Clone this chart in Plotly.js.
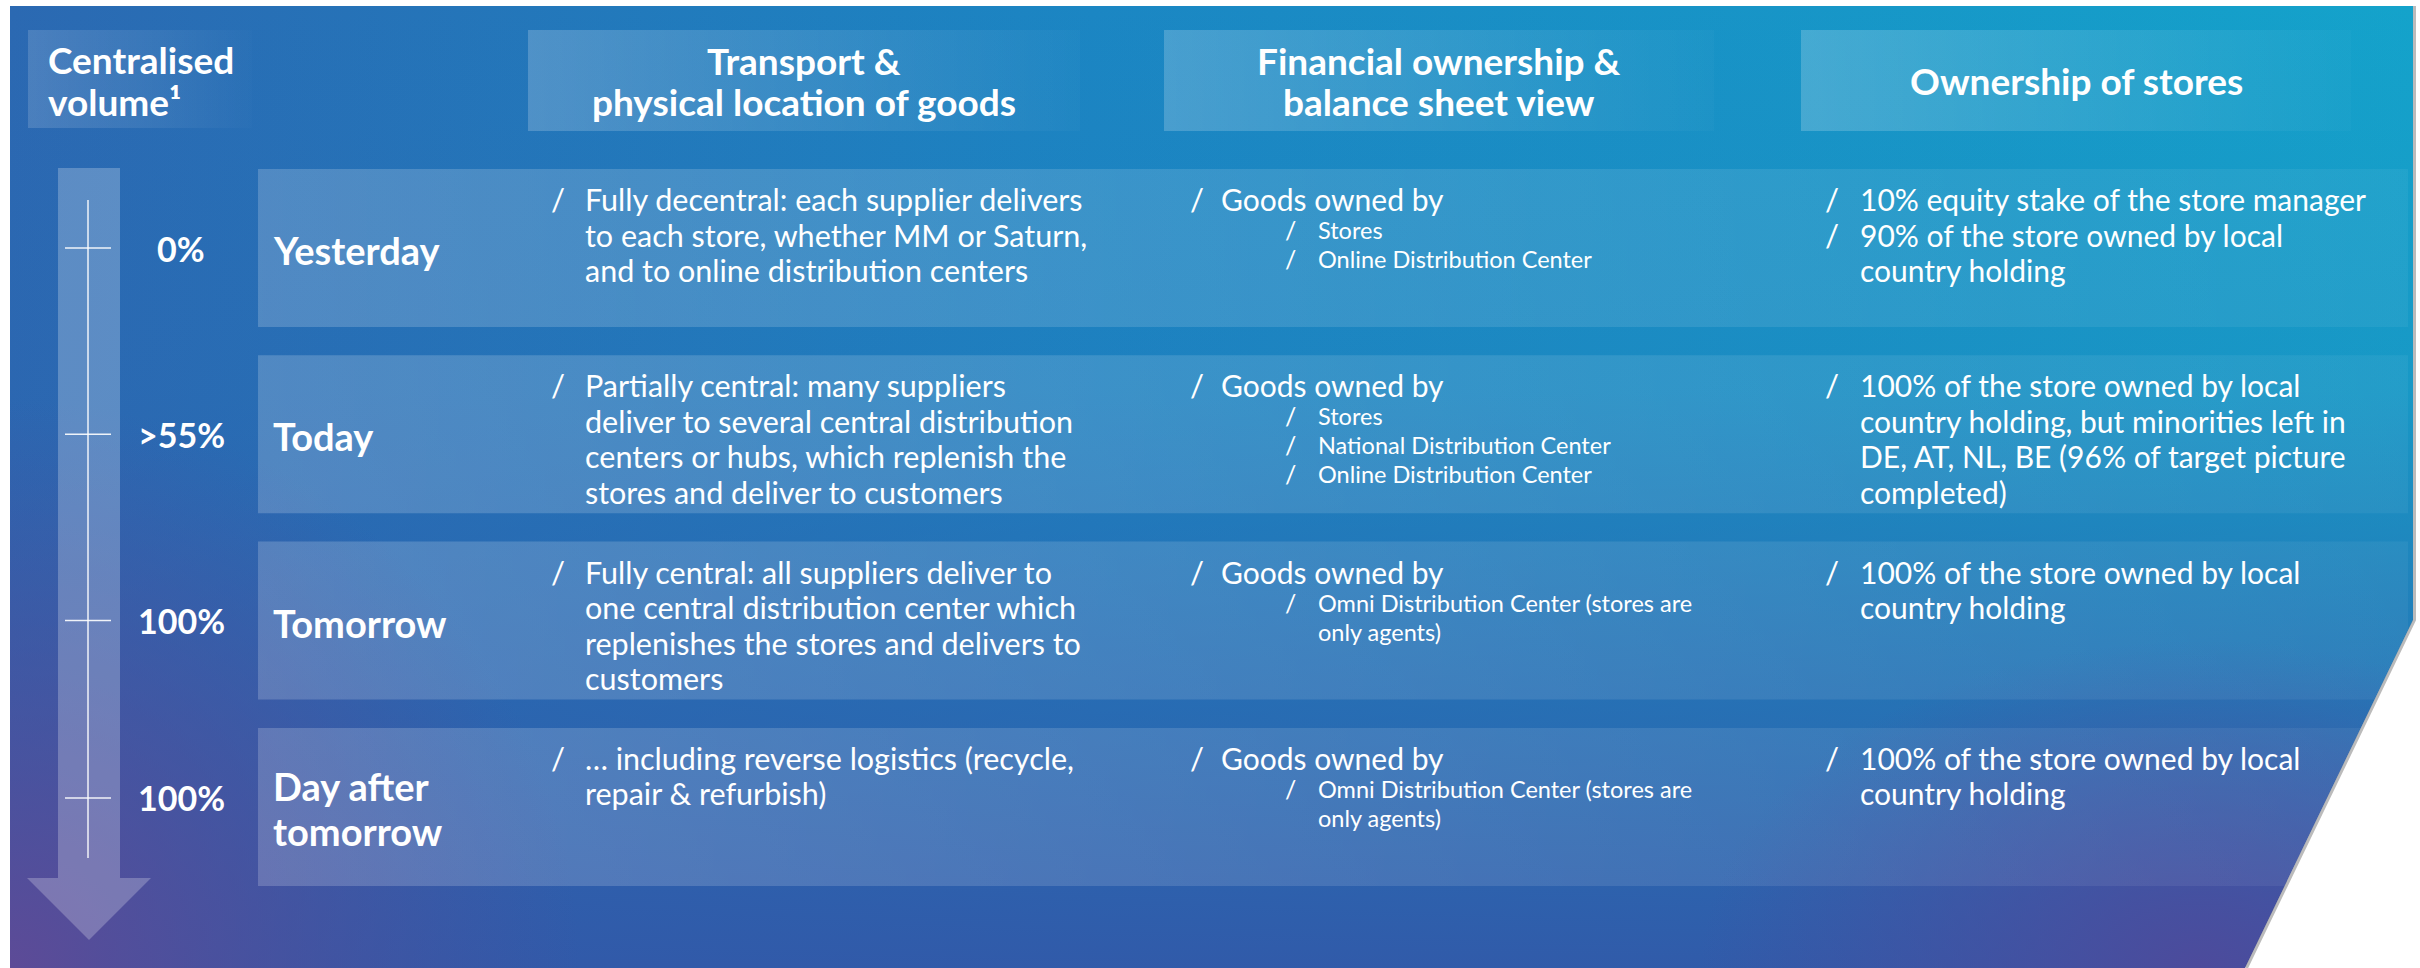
<!DOCTYPE html>
<html>
<head>
<meta charset="utf-8">
<script src="https://cdn.plot.ly/plotly-3.0.1.min.js"></script>
<style>html,body{margin:0;padding:0;background:#fff;}#chart{width:2420px;height:968px;}</style>
</head>
<body>
<div id="chart"></div>
<script>
// ---------- DATA ----------
const volumeHeader = ['Centralised', 'volume\u00b9'];
const columnHeaders = [
  ['Transport &', 'physical location of goods'],
  ['Financial ownership &', 'balance sheet view'],
  ['Ownership of stores']
];
const stages = [['Yesterday'], ['Today'], ['Tomorrow'], ['Day after', 'tomorrow']];
const volumes = ['0%', '>55%', '100%', '100%'];
const transport = [
  [['Fully decentral: each supplier delivers', 'to each store, whether MM or Saturn,', 'and to online distribution centers']],
  [['Partially central: many suppliers', 'deliver to several central distribution', 'centers or hubs, which replenish the', 'stores and deliver to customers']],
  [['Fully central: all suppliers deliver to', 'one central distribution center which', 'replenishes the stores and delivers to', 'customers']],
  [['\u2026 including reverse logistics (recycle,', 'repair & refurbish)']]
];
const financialMain = ['Goods owned by', 'Goods owned by', 'Goods owned by', 'Goods owned by'];
const financialSub = [
  [['Stores'], ['Online Distribution Center']],
  [['Stores'], ['National Distribution Center'], ['Online Distribution Center']],
  [['Omni Distribution Center (stores are', 'only agents)']],
  [['Omni Distribution Center (stores are', 'only agents)']]
];
const ownership = [
  [['10% equity stake of the store manager'], ['90% of the store owned by local', 'country holding']],
  [['100% of the store owned by local', 'country holding, but minorities left in', 'DE, AT, NL, BE (96% of target picture', 'completed)']],
  [['100% of the store owned by local', 'country holding']],
  [['100% of the store owned by local', 'country holding']]
];

// ---------- LAYOUT GEOMETRY ----------
const W = 2420, H = 968;
const P = {x0: 10, y0: 6, x1: 2413, ycut: 620, xbot: 2245};
const rowTop0 = 169, rowPitch = 186.3, rowH = 158, rowX0 = 258, rowX1 = 2408;
const hdrY0 = 30, hdrY1 = 131;
const hdrBoxes = [[528, 1080], [1164, 1714], [1801, 2351]];
const volBox = [28, 252];
const colSlash = [549, 1188, 1823];
const colText = [583, 1219, 1858];
const subSlash = 1283, subText = 1316;
const mainLH = 35.5, subLH = 29, subGap = 31, firstOff = 30;
const FONT = 'Lato, "Noto Sans", sans-serif';
const white = '#ffffff';
const SZ = {hdr: 37, stage: 38, vol: 34, body: 30, bodyT: 30.5, sub: 23.5, slash: 31, subSlash: 25};

const traces = [];
function poly(xs, ys, fillcolor, fillgradient) {
  const t = {type: 'scatter', mode: 'lines', x: xs.concat([xs[0]]), y: ys.concat([ys[0]]),
    fill: 'toself', line: {width: 0, color: 'rgba(0,0,0,0)'}, hoverinfo: 'skip', showlegend: false};
  if (fillgradient) t.fillgradient = fillgradient; else t.fillcolor = fillcolor;
  traces.push(t);
}
function rect(x0, y0, x1, y1, fillcolor, fillgradient) {
  poly([x0, x1, x1, x0], [y0, y0, y1, y1], fillcolor, fillgradient);
}
function hgrad(x0, x1, c0, c1) {
  return {type: 'horizontal', start: x0, stop: x1, colorscale: [[0, c0], [1, c1]]};
}

// background panel
rect(P.x0, P.y0, P.x1, H, null, {type: 'horizontal', start: P.x0, stop: P.x1,
  colorscale: [[0, '#2b69b2'], [0.45, '#1b86c3'], [1, '#14a3cb']]});
rect(P.x0, P.y0, P.x1, H, null, {type: 'vertical', start: P.y0, stop: H,
  colorscale: [[0, 'rgba(47,92,170,0)'], [0.4, 'rgba(47,92,170,0.15)'], [0.7, 'rgba(47,92,170,0.6)'], [1, 'rgba(50,88,168,0.95)']]});
// purple glows
rect(-560, 400, 580, 1536, null, {type: 'radial', colorscale: [[0, 'rgba(95,74,150,0.95)'], [0.5, 'rgba(85,76,152,0.5)'], [1, 'rgba(80,78,155,0)']]});
rect(1700, 640, 2700, 1296, null, {type: 'radial', colorscale: [[0, 'rgba(78,74,155,0.95)'], [0.55, 'rgba(75,76,158,0.45)'], [1, 'rgba(75,76,158,0)']]});

// header boxes
rect(volBox[0], hdrY0, volBox[1], hdrY1 - 3, null, hgrad(volBox[0], volBox[1], 'rgba(255,255,255,0.15)', 'rgba(255,255,255,0.01)'));
hdrBoxes.forEach(b => rect(b[0], hdrY0, b[1], hdrY1, null, hgrad(b[0], b[1], 'rgba(255,255,255,0.2)', 'rgba(255,255,255,0.02)')));

// row boxes
stages.forEach((s, i) => {
  const y0 = rowTop0 + i * rowPitch;
  rect(rowX0, y0, rowX1, y0 + rowH, null, hgrad(rowX0, rowX1, 'rgba(255,255,255,0.19)', 'rgba(255,255,255,0.05)'));
});

// arrow
const ax0 = 58, ax1 = 120, ahx0 = 27, ahx1 = 151, aTop = 168, aNeck = 878, aTip = 940, axC = 89;
poly([ax0, ax1, ax1, ahx1, axC, ahx0, ax0], [aTop, aTop, aNeck, aNeck, aTip, aNeck, aNeck], 'rgba(255,255,255,0.24)');
traces.push({type: 'scatter', mode: 'lines', x: [88, 88], y: [200, 858], line: {color: 'rgba(255,255,255,0.9)', width: 1.5}, hoverinfo: 'skip', showlegend: false});

// ---------- ANNOTATIONS ----------
const ann = [];
function txt(x, y, text, size, bold, anchor) {
  ann.push({x: x, y: y, xref: 'x', yref: 'y', text: bold ? '<b>' + text + '</b>' : text, showarrow: false,
    xanchor: anchor || 'left', yanchor: 'middle', font: {family: FONT, size: size, color: white}});
}
// headers
volumeHeader.forEach((t, k) => txt(46, 59 + k * 42, t, SZ.hdr, true));
columnHeaders.forEach((lines, c) => {
  const cx = (hdrBoxes[c][0] + hdrBoxes[c][1]) / 2;
  const cy = (hdrY0 + hdrY1) / 2;
  lines.forEach((t, k) => txt(cx, cy + (k - (lines.length - 1) / 2) * 41, t, SZ.hdr, true, 'center'));
});

const tickYs = [];
stages.forEach((lines, i) => {
  const top = rowTop0 + i * rowPitch;
  const cy = top + rowH / 2 + 2;
  lines.forEach((t, k) => txt(271, cy + (k - (lines.length - 1) / 2) * 45, t, SZ.stage, true));
  const vy = cy - 2 - 9 * (lines.length - 1);
  tickYs.push(vy);
  txt(181, vy, volumes[i], SZ.vol, true, 'center');

  // transport column
  let y = top + firstOff;
  transport[i].forEach(b => {
    txt(colSlash[0], y, '/', SZ.slash, false);
    b.forEach(l => { txt(colText[0], y, l, SZ.bodyT, false); y += mainLH; });
  });
  // financial column
  y = top + firstOff;
  txt(colSlash[1], y, '/', SZ.slash, false);
  txt(colText[1], y, financialMain[i], SZ.body, false);
  y += subGap;
  financialSub[i].forEach(b => {
    txt(subSlash, y, '/', SZ.subSlash, false);
    b.forEach(l => { txt(subText, y, l, SZ.sub, false); y += subLH; });
  });
  // ownership column
  y = top + firstOff;
  ownership[i].forEach(b => {
    txt(colSlash[2], y, '/', SZ.slash, false);
    b.forEach(l => { txt(colText[2], y, l, SZ.body, false); y += mainLH; });
  });
});

// tick marks on arrow
tickYs.forEach(ty => traces.push({type: 'scatter', mode: 'lines', x: [65, 111], y: [ty, ty],
  line: {color: 'rgba(255,255,255,0.9)', width: 1.5}, hoverinfo: 'skip', showlegend: false}));

// ---------- WHITE SURROUND ----------
const shapes = [
  {type: 'rect', xref: 'x', yref: 'y', x0: 0, x1: W, y0: 0, y1: P.y0, fillcolor: white, line: {width: 0}, layer: 'above'},
  {type: 'rect', xref: 'x', yref: 'y', x0: 0, x1: P.x0, y0: 0, y1: H, fillcolor: white, line: {width: 0}, layer: 'above'},
  {type: 'path', xref: 'x', yref: 'y', path: `M ${P.x1} 0 L ${W + 5} 0 L ${W + 5} ${H + 5} L ${P.xbot} ${H + 5} L ${P.xbot} ${H} L ${P.x1} ${P.ycut} Z`,
    fillcolor: white, line: {width: 0}, layer: 'above'},
  {type: 'path', xref: 'x', yref: 'y', path: `M ${P.x1 + 1.5} ${P.y0} L ${P.x1 + 1.5} ${P.ycut} L ${P.xbot + 1.5} ${H}`,
    line: {color: 'rgba(60,60,60,0.35)', width: 3}, layer: 'above'}
];

const layout = {
  width: W, height: H, margin: {l: 0, r: 0, t: 0, b: 0},
  paper_bgcolor: white, plot_bgcolor: white, showlegend: false,
  xaxis: {range: [0, W], visible: false, fixedrange: true},
  yaxis: {range: [H, 0], visible: false, fixedrange: true},
  annotations: ann, shapes: shapes
};
Plotly.newPlot('chart', traces, layout, {staticPlot: true, displayModeBar: false});
</script>
</body>
</html>
